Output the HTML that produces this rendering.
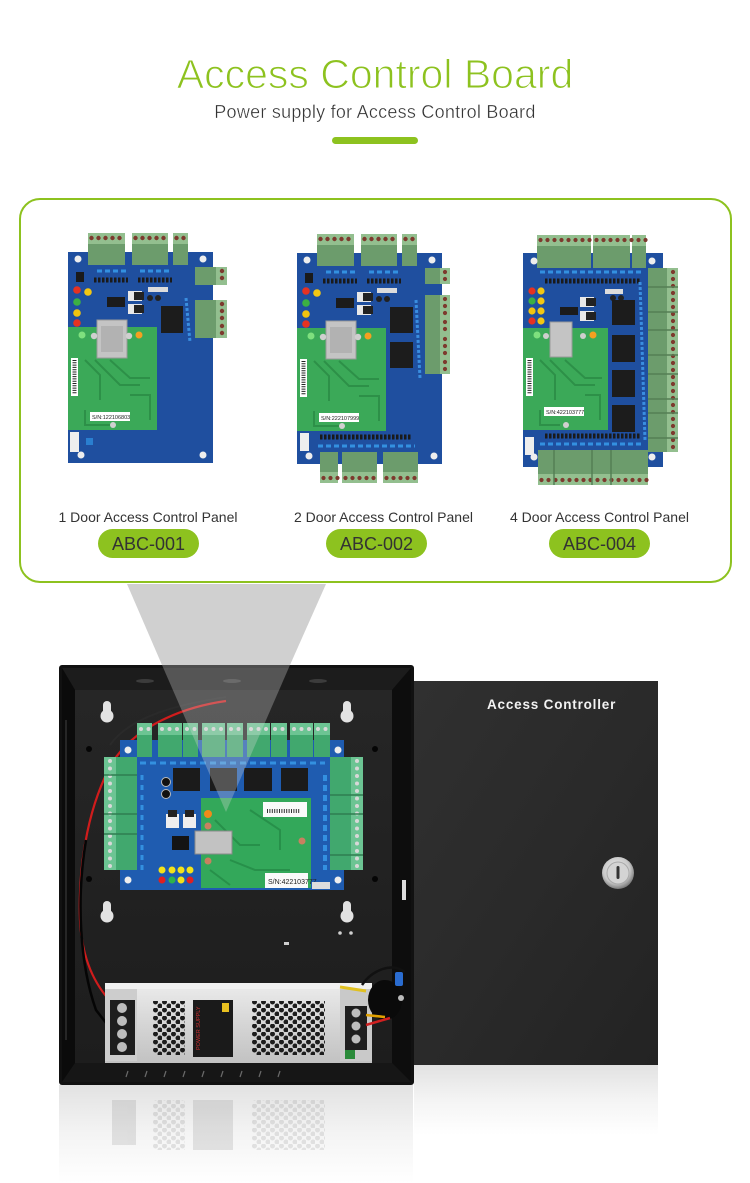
<!DOCTYPE html>
<html><head><meta charset="utf-8">
<style>
html,body{margin:0;padding:0;background:#fff;}
body{width:750px;height:1183px;overflow:hidden;}
svg{display:block;}
</style></head><body>
<svg width="750" height="1183" viewBox="0 0 750 1183" xmlns="http://www.w3.org/2000/svg" font-family="'Liberation Sans', Arial, sans-serif">
<defs>
 <pattern id="hex" x="0" y="0" width="9" height="8" patternUnits="userSpaceOnUse"><circle cx="2.5" cy="2" r="2.5" fill="#1c1c1c"/><circle cx="7" cy="6" r="2.5" fill="#1c1c1c"/></pattern>
 <linearGradient id="door" x1="0" y1="0" x2="1" y2="1"><stop offset="0" stop-color="#303030"/><stop offset="0.5" stop-color="#2a2a2a"/><stop offset="1" stop-color="#232323"/></linearGradient>
 <linearGradient id="back" x1="0" y1="0" x2="0" y2="1"><stop offset="0" stop-color="#262626"/><stop offset="1" stop-color="#1d1d1d"/></linearGradient>
 <linearGradient id="psu" x1="0" y1="0" x2="0" y2="1"><stop offset="0" stop-color="#ececec"/><stop offset="0.5" stop-color="#d6d6d6"/><stop offset="1" stop-color="#c2c2c2"/></linearGradient>
 <linearGradient id="refl" x1="0" y1="0" x2="0" y2="1"><stop offset="0" stop-color="#e2e2e2"/><stop offset="0.5" stop-color="#f4f4f4"/><stop offset="1" stop-color="#ffffff"/></linearGradient>
 <radialGradient id="lock" cx="0.45" cy="0.4" r="0.6"><stop offset="0" stop-color="#f4f4f4"/><stop offset="0.7" stop-color="#c8c8c8"/><stop offset="1" stop-color="#7a7a7a"/></radialGradient>

 <g id="common">
  <rect x="68" y="252" width="145" height="211" fill="#1f4f9f"/>
  <rect x="88" y="233" width="37" height="32" fill="#6c9c6c"/><rect x="88" y="233" width="37" height="11" fill="#93bf8f"/>
  <line x1="91.5" y1="238" x2="125" y2="238" stroke="#7d3a2e" stroke-width="4.4" stroke-linecap="round" stroke-dasharray="0 7"/>
  <rect x="132" y="233" width="36" height="32" fill="#6c9c6c"/><rect x="132" y="233" width="36" height="11" fill="#93bf8f"/>
  <line x1="135.5" y1="238" x2="168" y2="238" stroke="#7d3a2e" stroke-width="4.4" stroke-linecap="round" stroke-dasharray="0 7"/>
  <rect x="173" y="233" width="15" height="32" fill="#6c9c6c"/><rect x="173" y="233" width="15" height="11" fill="#93bf8f"/>
  <line x1="176.5" y1="238" x2="188" y2="238" stroke="#7d3a2e" stroke-width="4.4" stroke-linecap="round" stroke-dasharray="0 7"/>
  <line x1="97" y1="271" x2="127" y2="271" stroke="#3390e0" stroke-width="3" stroke-dasharray="5 3"/>
  <line x1="140" y1="271" x2="172" y2="271" stroke="#3390e0" stroke-width="3" stroke-dasharray="5 3"/>
  <line x1="94" y1="280" x2="128" y2="280" stroke="#1a1a1a" stroke-width="5" stroke-dasharray="2.5 1.5"/>
  <line x1="138" y1="280" x2="172" y2="280" stroke="#1a1a1a" stroke-width="5" stroke-dasharray="2.5 1.5"/>
  <rect x="76" y="272" width="8" height="10" fill="#1a1a1a"/>
  <circle cx="77" cy="290" r="3.8" fill="#e53222"/><circle cx="88" cy="292" r="3.8" fill="#f3c712"/>
  <circle cx="77" cy="302" r="3.8" fill="#3cb043"/><circle cx="77" cy="313" r="3.8" fill="#f1c40f"/>
  <circle cx="77" cy="323" r="3.8" fill="#e53222"/>
  <rect x="107" y="297" width="18" height="10" fill="#1b1b1b"/>
  <rect x="128" y="291" width="14" height="10" fill="#e8e8e8"/><rect x="134" y="292" width="10" height="8" fill="#222"/>
  <rect x="128" y="304" width="14" height="10" fill="#e8e8e8"/><rect x="134" y="305" width="10" height="8" fill="#222"/>
  <rect x="148" y="287" width="20" height="5" fill="#dcdcdc"/>
  <circle cx="150" cy="298" r="3" fill="#222"/><circle cx="158" cy="298" r="3" fill="#222"/>
  <rect x="68" y="327" width="89" height="103" fill="#3ba958"/>
  <path d="M85,360 L100,375 L100,400 M95,360 L120,385 L140,385 M110,360 L130,378 L150,378 M130,395 L150,395 L150,420 M85,410 L85,425 L110,425" stroke="#2d9048" stroke-width="2" fill="none"/>
  <rect x="97" y="320" width="30" height="38" fill="#c4c4c4" stroke="#9a9a9a" stroke-width="1"/>
  <rect x="101" y="326" width="22" height="26" fill="#b2b2b2"/>
  <circle cx="82" cy="335" r="3.5" fill="#7ee07e"/><circle cx="94" cy="336" r="3.2" fill="#cfcfcf"/>
  <circle cx="129" cy="336" r="3.2" fill="#cfcfcf"/><circle cx="139" cy="335" r="3.5" fill="#f5a020"/>
  <rect x="71" y="358" width="7" height="38" fill="#fff"/>
  <line x1="74.5" y1="360" x2="74.5" y2="394" stroke="#222" stroke-width="4" stroke-dasharray="1 1.3"/>
  <circle cx="113" cy="425" r="3" fill="#d0d0d0"/>
  <circle cx="78" cy="259" r="3.5" fill="#eee"/><circle cx="203" cy="259" r="3.5" fill="#eee"/>
 </g>
</defs>

<!-- ===== Header ===== -->
<text x="375" y="88" font-size="41" fill="#8dc21f" stroke="#fff" stroke-width="1.1" text-anchor="middle">Access Control Board</text>
<text x="375" y="118" font-size="18" fill="#333" stroke="#fff" stroke-width="0.35" text-anchor="middle" letter-spacing="0.25">Power supply for Access Control Board</text>
<rect x="332" y="137" width="86" height="7" rx="3.5" fill="#8dc21f"/>

<polygon points="127,584 326,584 290,665 162,665" fill="#d0d0d0"/>

<rect x="20" y="199" width="711" height="383" rx="20" ry="20" fill="#fff" fill-opacity="0" stroke="#8dc21f" stroke-width="2"/>

<!-- Board 1 -->
<use href="#common"/>
<rect x="195" y="267" width="32" height="18" fill="#6c9c6c"/><rect x="216" y="267" width="11" height="18" fill="#93bf8f"/>
<line x1="222" y1="271" x2="222" y2="285" stroke="#7d3a2e" stroke-width="4.4" stroke-linecap="round" stroke-dasharray="0 7"/>
<rect x="195" y="300" width="32" height="22" fill="#6c9c6c"/><rect x="216" y="300" width="11" height="22" fill="#93bf8f"/>
<line x1="222" y1="304" x2="222" y2="322" stroke="#7d3a2e" stroke-width="4.4" stroke-linecap="round" stroke-dasharray="0 7"/>
<rect x="195" y="322" width="32" height="16" fill="#6c9c6c"/><rect x="216" y="322" width="11" height="16" fill="#93bf8f"/>
<line x1="222" y1="326" x2="222" y2="338" stroke="#7d3a2e" stroke-width="4.4" stroke-linecap="round" stroke-dasharray="0 7"/>
<rect x="161" y="306" width="22" height="27" fill="#1c1c1c"/>
<line x1="186" y1="298" x2="190" y2="342" stroke="#3a8ee0" stroke-width="3" stroke-dasharray="3 2"/>
<rect x="90" y="412" width="40" height="9" fill="#fff"/>
<text x="92" y="419" font-size="5.5" fill="#222">S/N:122106803</text>
<circle cx="81" cy="455" r="3.5" fill="#eee"/><circle cx="203" cy="455" r="3.5" fill="#eee"/>
<rect x="70" y="432" width="9" height="20" fill="#eee"/>
<rect x="86" y="438" width="7" height="7" fill="#2a7fd0"/>

<!-- Board 2 -->
<use href="#common" transform="translate(229,1)"/>
<rect x="425" y="268" width="25" height="16" fill="#6c9c6c"/><rect x="440" y="268" width="10" height="16" fill="#93bf8f"/>
<line x1="445" y1="272" x2="445" y2="284" stroke="#7d3a2e" stroke-width="4.2" stroke-linecap="round" stroke-dasharray="0 7"/>
<rect x="425" y="295" width="25" height="23" fill="#6c9c6c"/><rect x="440" y="295" width="10" height="23" fill="#93bf8f"/>
<line x1="445" y1="299" x2="445" y2="318" stroke="#7d3a2e" stroke-width="4.2" stroke-linecap="round" stroke-dasharray="0 7"/>
<rect x="425" y="318" width="25" height="17" fill="#6c9c6c"/><rect x="440" y="318" width="10" height="17" fill="#93bf8f"/>
<line x1="445" y1="322" x2="445" y2="335" stroke="#7d3a2e" stroke-width="4.2" stroke-linecap="round" stroke-dasharray="0 7"/>
<rect x="425" y="335" width="25" height="23" fill="#6c9c6c"/><rect x="440" y="335" width="10" height="23" fill="#93bf8f"/>
<line x1="445" y1="339" x2="445" y2="358" stroke="#7d3a2e" stroke-width="4.2" stroke-linecap="round" stroke-dasharray="0 7"/>
<rect x="425" y="358" width="25" height="16" fill="#6c9c6c"/><rect x="440" y="358" width="10" height="16" fill="#93bf8f"/>
<line x1="445" y1="362" x2="445" y2="374" stroke="#7d3a2e" stroke-width="4.2" stroke-linecap="round" stroke-dasharray="0 7"/>
<rect x="390" y="307" width="23" height="26" fill="#1c1c1c"/><rect x="390" y="342" width="23" height="26" fill="#1c1c1c"/>
<line x1="416" y1="300" x2="420" y2="378" stroke="#3a8ee0" stroke-width="3" stroke-dasharray="3 2"/>
<rect x="319" y="413" width="40" height="9" fill="#fff"/>
<text x="321" y="420" font-size="5.5" fill="#222">S/N:222107999</text>
<line x1="320" y1="437" x2="412" y2="437" stroke="#1a1a1a" stroke-width="5" stroke-dasharray="2.5 1.5"/>
<line x1="318" y1="446" x2="415" y2="446" stroke="#3390e0" stroke-width="3" stroke-dasharray="5 3"/>
<rect x="300" y="433" width="9" height="18" fill="#eee"/>
<circle cx="309" cy="456" r="3.5" fill="#eee"/><circle cx="434" cy="456" r="3.5" fill="#eee"/>
<rect x="320" y="452" width="18" height="31" fill="#6c9c6c"/><rect x="320" y="472" width="18" height="11" fill="#93bf8f"/>
<line x1="323.5" y1="478" x2="338" y2="478" stroke="#7d3a2e" stroke-width="4.2" stroke-linecap="round" stroke-dasharray="0 7"/>
<rect x="342" y="452" width="35" height="31" fill="#6c9c6c"/><rect x="342" y="472" width="35" height="11" fill="#93bf8f"/>
<line x1="345.5" y1="478" x2="377" y2="478" stroke="#7d3a2e" stroke-width="4.2" stroke-linecap="round" stroke-dasharray="0 7"/>
<rect x="383" y="452" width="35" height="31" fill="#6c9c6c"/><rect x="383" y="472" width="35" height="11" fill="#93bf8f"/>
<line x1="386.5" y1="478" x2="418" y2="478" stroke="#7d3a2e" stroke-width="4.2" stroke-linecap="round" stroke-dasharray="0 7"/>

<!-- Board 3 -->
<rect x="523" y="253" width="140" height="214" fill="#1f4f9f"/>
<g fill="#6c9c6c">
 <rect x="537" y="235" width="36" height="33"/><rect x="573" y="235" width="18" height="33"/><rect x="593" y="235" width="37" height="33"/><rect x="632" y="235" width="14" height="33"/>
</g>
<g fill="#93bf8f">
 <rect x="537" y="235" width="36" height="11"/><rect x="573" y="235" width="18" height="11"/><rect x="593" y="235" width="37" height="11"/><rect x="632" y="235" width="14" height="11"/>
</g>
<line x1="540.5" y1="240" x2="646" y2="240" stroke="#7d3a2e" stroke-width="4.2" stroke-linecap="round" stroke-dasharray="0 7"/>
<rect x="648" y="268" width="30" height="184" fill="#6c9c6c"/>
<rect x="667" y="268" width="11" height="184" fill="#93bf8f"/>
<line x1="673" y1="272" x2="673" y2="452" stroke="#7d3a2e" stroke-width="4.2" stroke-linecap="round" stroke-dasharray="0 7"/>
<g stroke="#557f55" stroke-width="1.5"><line x1="648" y1="287" x2="678" y2="287"/><line x1="648" y1="312" x2="678" y2="312"/><line x1="648" y1="330" x2="678" y2="330"/><line x1="648" y1="355" x2="678" y2="355"/><line x1="648" y1="374" x2="678" y2="374"/><line x1="648" y1="399" x2="678" y2="399"/><line x1="648" y1="413" x2="678" y2="413"/><line x1="648" y1="438" x2="678" y2="438"/></g>
<rect x="538" y="450" width="110" height="35" fill="#6c9c6c"/>
<rect x="538" y="474" width="110" height="11" fill="#93bf8f"/>
<line x1="541.5" y1="480" x2="648" y2="480" stroke="#7d3a2e" stroke-width="4.2" stroke-linecap="round" stroke-dasharray="0 7"/>
<g stroke="#557f55" stroke-width="1.5"><line x1="554" y1="450" x2="554" y2="485"/><line x1="592" y1="450" x2="592" y2="485"/><line x1="611" y1="450" x2="611" y2="485"/></g>
<line x1="540" y1="272" x2="642" y2="272" stroke="#3390e0" stroke-width="3" stroke-dasharray="5 3"/>
<line x1="545" y1="281" x2="640" y2="281" stroke="#1a1a1a" stroke-width="5" stroke-dasharray="2.5 1.5"/>
<line x1="540" y1="444" x2="642" y2="444" stroke="#3390e0" stroke-width="3" stroke-dasharray="5 3"/>
<line x1="545" y1="436" x2="640" y2="436" stroke="#1a1a1a" stroke-width="5" stroke-dasharray="2.5 1.5"/>
<circle cx="532" cy="291" r="3.6" fill="#e53222"/><circle cx="541" cy="291" r="3.6" fill="#f3c712"/>
<circle cx="532" cy="301" r="3.6" fill="#3cb043"/><circle cx="541" cy="301" r="3.6" fill="#f3c712"/>
<circle cx="532" cy="311" r="3.6" fill="#f1c40f"/><circle cx="541" cy="311" r="3.6" fill="#f3c712"/>
<circle cx="532" cy="321" r="3.6" fill="#e53222"/><circle cx="541" cy="321" r="3.6" fill="#f3c712"/>
<rect x="560" y="307" width="18" height="8" fill="#1b1b1b"/>
<rect x="580" y="297" width="14" height="10" fill="#e8e8e8"/><rect x="586" y="298" width="10" height="8" fill="#222"/>
<rect x="580" y="311" width="14" height="10" fill="#e8e8e8"/><rect x="586" y="312" width="10" height="8" fill="#222"/>
<rect x="605" y="289" width="18" height="5" fill="#dcdcdc"/>
<circle cx="613" cy="298" r="3" fill="#222"/><circle cx="621" cy="298" r="3" fill="#222"/>
<g fill="#1c1c1c"><rect x="612" y="300" width="23" height="25"/><rect x="612" y="335" width="23" height="27"/><rect x="612" y="370" width="23" height="27"/><rect x="612" y="405" width="23" height="27"/></g>
<line x1="640" y1="282" x2="645" y2="440" stroke="#3a8ee0" stroke-width="3" stroke-dasharray="3 2"/>
<rect x="523" y="328" width="85" height="102" fill="#3ba958"/>
<path d="M540,360 L555,375 L555,400 M550,360 L575,385 L595,385 M565,360 L585,378 L602,378 M585,395 L600,395 L600,420 M540,410 L540,425 L560,425" stroke="#2d9048" stroke-width="2" fill="none"/>
<rect x="550" y="322" width="22" height="35" fill="#c4c4c4" stroke="#9a9a9a" stroke-width="1"/>
<circle cx="537" cy="335" r="3.5" fill="#7ee07e"/><circle cx="546" cy="336" r="3" fill="#cfcfcf"/>
<circle cx="583" cy="336" r="3" fill="#cfcfcf"/><circle cx="593" cy="335" r="3.5" fill="#f5a020"/>
<rect x="526" y="358" width="7" height="38" fill="#fff"/>
<line x1="529.5" y1="360" x2="529.5" y2="394" stroke="#222" stroke-width="4" stroke-dasharray="1 1.3"/>
<rect x="544" y="407" width="40" height="9" fill="#fff"/>
<text x="546" y="414" font-size="5.5" fill="#222">S/N:422103777</text>
<circle cx="566" cy="425" r="3" fill="#d0d0d0"/>
<circle cx="534" cy="261" r="3.5" fill="#eee"/><circle cx="652" cy="261" r="3.5" fill="#eee"/>
<circle cx="534" cy="457" r="3.5" fill="#eee"/><circle cx="652" cy="457" r="3.5" fill="#eee"/>
<rect x="525" y="437" width="9" height="18" fill="#eee"/>

<!-- labels & pills -->
<text x="148" y="522" font-size="14" fill="#333" text-anchor="middle">1 Door Access Control Panel</text>
<text x="383.5" y="522" font-size="14" fill="#333" text-anchor="middle">2 Door Access Control Panel</text>
<text x="599.5" y="522" font-size="14" fill="#333" text-anchor="middle">4 Door Access Control Panel</text>
<rect x="98" y="529" width="101" height="29" rx="14.5" fill="#8dc21f"/>
<rect x="326" y="529" width="101" height="29" rx="14.5" fill="#8dc21f"/>
<rect x="549" y="529" width="101" height="29" rx="14.5" fill="#8dc21f"/>
<text x="148.5" y="550" font-size="18" fill="#333" text-anchor="middle">ABC-001</text>
<text x="376.5" y="550" font-size="18" fill="#333" text-anchor="middle">ABC-002</text>
<text x="599.5" y="550" font-size="18" fill="#333" text-anchor="middle">ABC-004</text>

<!-- Reflections -->
<rect x="59" y="1085" width="354" height="98" fill="url(#refl)"/>
<rect x="414" y="1065" width="244" height="70" fill="url(#refl)"/>
<g opacity="0.1">
 <rect x="153" y="1100" width="32" height="50" fill="url(#hex)"/>
 <rect x="252" y="1100" width="73" height="50" fill="url(#hex)"/>
 <rect x="193" y="1100" width="40" height="50" fill="#222"/>
 <rect x="112" y="1100" width="24" height="45" fill="#222"/>
</g>

<!-- Door -->
<rect x="414" y="681" width="244" height="384" fill="url(#door)"/>
<text x="487" y="709" font-size="13.5" font-weight="bold" fill="#f2f2f2" letter-spacing="0.8">Access Controller</text>
<circle cx="618" cy="873" r="16" fill="url(#lock)"/>
<circle cx="618" cy="873" r="11" fill="#d4d4d4" stroke="#aaa" stroke-width="1"/>
<rect x="616.5" y="866" width="3" height="13" rx="1.5" fill="#333"/>

<!-- Box -->
<rect x="59" y="665" width="355" height="420" rx="3" fill="#111"/>
<polygon points="62,668 411,668 392,690 75,690" fill="#1c1c1c"/>
<g fill="#3c3c3c"><ellipse cx="145" cy="681" rx="9" ry="2"/><ellipse cx="232" cy="681" rx="9" ry="2"/><ellipse cx="318" cy="681" rx="9" ry="2"/></g>
<polygon points="62,668 75,690 75,1063 62,1082" fill="#0b0b0b"/>
<polygon points="411,668 411,1082 392,1063 392,690" fill="#0d0d0d"/>
<rect x="75" y="690" width="317" height="373" fill="url(#back)"/>
<polygon points="75,1063 392,1063 411,1082 62,1082" fill="#161616"/>
<g stroke="#6a6a6a" stroke-width="1.2">
 <line x1="128" y1="1071" x2="126" y2="1077"/><line x1="147" y1="1071" x2="145" y2="1077"/><line x1="166" y1="1071" x2="164" y2="1077"/><line x1="185" y1="1071" x2="183" y2="1077"/><line x1="204" y1="1071" x2="202" y2="1077"/><line x1="223" y1="1071" x2="221" y2="1077"/><line x1="242" y1="1071" x2="240" y2="1077"/><line x1="261" y1="1071" x2="259" y2="1077"/><line x1="280" y1="1071" x2="278" y2="1077"/>
</g>
<line x1="66" y1="720" x2="66" y2="1040" stroke="#262626" stroke-width="2"/>
<rect x="402" y="880" width="4" height="20" fill="#ddd"/>
<g fill="#e2e2e2">
 <rect x="103" y="701" width="8" height="14" rx="4"/><circle cx="107" cy="716" r="6.5"/>
 <rect x="343" y="701" width="8" height="14" rx="4"/><circle cx="347" cy="716" r="6.5"/>
 <rect x="103" y="901" width="8" height="14" rx="4"/><circle cx="107" cy="916" r="6.5"/>
 <rect x="343" y="901" width="8" height="14" rx="4"/><circle cx="347" cy="916" r="6.5"/>
</g>
<g fill="#050505"><circle cx="89" cy="749" r="3"/><circle cx="375" cy="749" r="3"/><circle cx="89" cy="879" r="3"/><circle cx="375" cy="879" r="3"/></g>
<g fill="#cfcfcf"><circle cx="340" cy="933" r="1.8"/><circle cx="351" cy="933" r="1.8"/><rect x="284" y="942" width="5" height="3"/></g>

<path d="M226,701 C190,706 140,722 114,760 C90,800 78,860 80,920 C82,960 95,985 112,1003" stroke="#d01c1c" stroke-width="2.2" fill="none"/>
<path d="M226,697 C180,704 130,716 110,745" stroke="#2a2a2a" stroke-width="2" fill="none"/>
<path d="M86,840 C76,900 80,965 96,1010 L110,1028" stroke="#050505" stroke-width="2.5" fill="none"/>

<!-- PCB in box -->
<rect x="120" y="740" width="224" height="150" fill="#1f5cb0"/>
<g fill="#41a86e">
 <rect x="137" y="723" width="15" height="34"/><rect x="158" y="723" width="24" height="34"/><rect x="183" y="723" width="15" height="34"/>
 <rect x="202" y="723" width="23" height="34"/><rect x="227" y="723" width="16" height="34"/><rect x="247" y="723" width="23" height="34"/>
 <rect x="271" y="723" width="16" height="34"/><rect x="290" y="723" width="23" height="34"/><rect x="314" y="723" width="16" height="34"/>
</g>
<g fill="#6cc493">
 <rect x="137" y="723" width="15" height="12"/><rect x="158" y="723" width="24" height="12"/><rect x="183" y="723" width="15" height="12"/>
 <rect x="202" y="723" width="23" height="12"/><rect x="227" y="723" width="16" height="12"/><rect x="247" y="723" width="23" height="12"/>
 <rect x="271" y="723" width="16" height="12"/><rect x="290" y="723" width="23" height="12"/><rect x="314" y="723" width="16" height="12"/>
</g>
<g stroke="#d8d8d8" stroke-width="4" stroke-linecap="round" stroke-dasharray="0 7.5">
 <line x1="141" y1="729" x2="152" y2="729"/><line x1="162" y1="729" x2="182" y2="729"/><line x1="187" y1="729" x2="198" y2="729"/>
 <line x1="206" y1="729" x2="225" y2="729"/><line x1="231" y1="729" x2="243" y2="729"/><line x1="251" y1="729" x2="270" y2="729"/>
 <line x1="275" y1="729" x2="287" y2="729"/><line x1="294" y1="729" x2="313" y2="729"/><line x1="318" y1="729" x2="330" y2="729"/>
</g>
<rect x="104" y="757" width="33" height="113" fill="#41a86e"/>
<rect x="104" y="757" width="12" height="113" fill="#6cc493"/>
<line x1="110" y1="761" x2="110" y2="870" stroke="#d8d8d8" stroke-width="4" stroke-linecap="round" stroke-dasharray="0 7.5"/>
<g stroke="#2f7d50" stroke-width="1.5"><line x1="104" y1="775" x2="137" y2="775"/><line x1="104" y1="814" x2="137" y2="814"/><line x1="104" y1="834" x2="137" y2="834"/></g>
<rect x="330" y="757" width="33" height="113" fill="#41a86e"/>
<rect x="351" y="757" width="12" height="113" fill="#6cc493"/>
<line x1="357" y1="761" x2="357" y2="870" stroke="#d8d8d8" stroke-width="4" stroke-linecap="round" stroke-dasharray="0 7.5"/>
<g stroke="#2f7d50" stroke-width="1.5"><line x1="330" y1="795" x2="363" y2="795"/><line x1="330" y1="814" x2="363" y2="814"/><line x1="330" y1="855" x2="363" y2="855"/></g>
<line x1="140" y1="763" x2="325" y2="763" stroke="#3390e0" stroke-width="3" stroke-dasharray="6 4"/>
<line x1="325" y1="775" x2="325" y2="870" stroke="#3390e0" stroke-width="4" stroke-dasharray="6 4"/>
<line x1="142" y1="775" x2="142" y2="870" stroke="#3390e0" stroke-width="3" stroke-dasharray="5 5"/>
<g fill="#1b1b1b"><rect x="173" y="768" width="27" height="23"/><rect x="210" y="768" width="27" height="23"/><rect x="244" y="768" width="28" height="23"/><rect x="281" y="768" width="27" height="23"/></g>
<circle cx="166" cy="782" r="4.5" fill="#111" stroke="#bbb"/><circle cx="166" cy="794" r="4.5" fill="#111" stroke="#bbb"/>
<rect x="166" y="814" width="13" height="14" fill="#eee"/><rect x="183" y="814" width="13" height="14" fill="#eee"/>
<rect x="168" y="810" width="9" height="7" fill="#222"/><rect x="185" y="810" width="9" height="7" fill="#222"/>
<rect x="172" y="836" width="17" height="14" fill="#141414"/>
<g><circle cx="162" cy="870" r="3.5" fill="#f4e21a"/><circle cx="172" cy="870" r="3.5" fill="#f4e21a"/><circle cx="181" cy="870" r="3.5" fill="#f4e21a"/><circle cx="190" cy="870" r="3.5" fill="#f4e21a"/>
<circle cx="162" cy="880" r="3.5" fill="#e02020"/><circle cx="172" cy="880" r="3.5" fill="#2fb34a"/><circle cx="181" cy="880" r="3.5" fill="#f4e21a"/><circle cx="190" cy="880" r="3.5" fill="#e02020"/></g>
<rect x="201" y="798" width="110" height="90" fill="#33a85a"/>
<path d="M215,820 L240,845 L260,845 M230,860 L255,870 L290,870 M250,810 L280,830 L280,850 M210,870 L230,885" stroke="#27904a" stroke-width="2" fill="none"/>
<rect x="263" y="802" width="44" height="15" fill="#fafafa"/>
<line x1="267" y1="811" x2="300" y2="811" stroke="#333" stroke-width="4" stroke-dasharray="1 1.4"/>
<rect x="265" y="873" width="43" height="15" fill="#fafafa"/>
<text x="268" y="884" font-size="7" fill="#222">S/N:422103777</text>
<rect x="195" y="831" width="37" height="23" fill="#c2c2c2" stroke="#8a8a8a"/>
<circle cx="208" cy="814" r="4" fill="#f08a1a"/><circle cx="208" cy="826" r="3.5" fill="#c98060"/>
<circle cx="208" cy="861" r="3.5" fill="#c98060"/><circle cx="302" cy="841" r="3.5" fill="#c98060"/>
<g fill="#eee"><circle cx="128" cy="750" r="3.5"/><circle cx="338" cy="750" r="3.5"/><circle cx="128" cy="880" r="3.5"/><circle cx="338" cy="880" r="3.5"/></g>
<rect x="312" y="882" width="18" height="7" fill="#ddd"/>

<!-- power supply -->
<rect x="105" y="983" width="267" height="80" fill="url(#psu)"/>
<rect x="105" y="983" width="267" height="6" fill="#f0f0f0"/>
<rect x="105" y="989" width="32" height="72" fill="#cdcdcd"/>
<rect x="110" y="1000" width="25" height="55" fill="#1e1e1e"/>
<g fill="#bdbdbd"><circle cx="122" cy="1008" r="5"/><circle cx="122" cy="1021" r="5"/><circle cx="122" cy="1034" r="5"/><circle cx="122" cy="1047" r="5"/></g>
<rect x="153" y="1001" width="32" height="54" fill="url(#hex)"/>
<rect x="193" y="1000" width="40" height="57" fill="#1a1a1a"/>
<text transform="translate(200,1050) rotate(-90)" font-size="5.5" fill="#d03030">POWER SUPPLY</text>
<rect x="222" y="1003" width="7" height="9" fill="#e8c020"/>
<rect x="252" y="1001" width="73" height="54" fill="url(#hex)"/>
<rect x="340" y="989" width="32" height="72" fill="#c9c9c9"/>
<rect x="345" y="1006" width="22" height="44" fill="#1e1e1e"/>
<g fill="#bdbdbd"><circle cx="356" cy="1013" r="4.5"/><circle cx="356" cy="1026" r="4.5"/><circle cx="356" cy="1039" r="4.5"/></g>
<rect x="345" y="1050" width="10" height="9" fill="#2a8a3a"/>
<ellipse cx="385" cy="1000" rx="17" ry="20" fill="#0a0a0a"/>
<path d="M362,985 C372,970 392,962 405,972" stroke="#111" stroke-width="2.5" fill="none"/>
<rect x="395" y="972" width="8" height="14" rx="2" fill="#2a6cd0"/>
<path d="M340,987 L366,991" stroke="#e0c020" stroke-width="3" fill="none"/>
<path d="M366,1015 L385,1017" stroke="#e0a000" stroke-width="2.5" fill="none"/>
<path d="M366,1025 L390,1018" stroke="#d02020" stroke-width="2.5" fill="none"/>
<circle cx="401" cy="998" r="3" fill="#bbb"/>

<polygon points="162,665 290,665 226,812" fill="#dcdcdc" fill-opacity="0.3"/>
</svg>
</body></html>
